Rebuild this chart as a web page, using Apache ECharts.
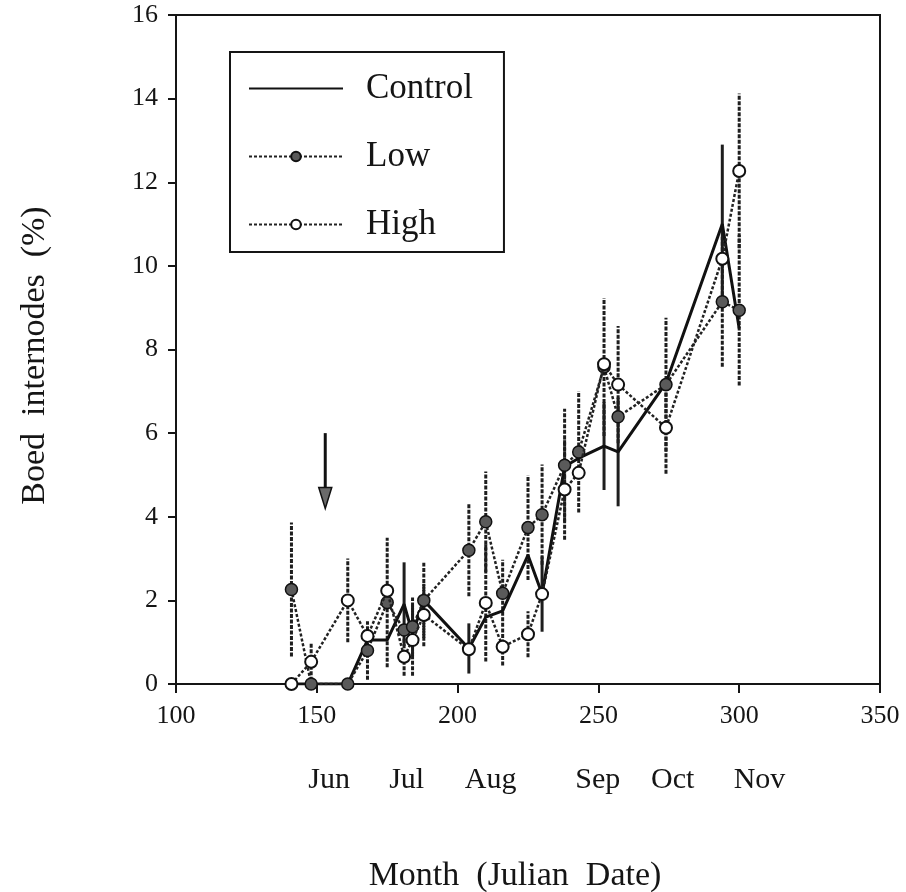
<!DOCTYPE html>
<html><head><meta charset="utf-8">
<script src="https://cdn.jsdelivr.net/npm/echarts@6/dist/echarts.min.js"></script>
<style>html,body{margin:0;padding:0;background:#fff}#c{width:906px;height:892px}</style>
</head><body><div id="c"></div>
<script>
// ---- data (Julian date) ----
const dates   = [141, 148, 161, 168, 175, 181, 184, 188, 204, 210, 216, 225, 230, 238, 243, 252, 257, 274, 294, 300];
const control = [0, 0, 0, 1.05, 1.05, 1.91, 1.2, 2.0, 0.85, 1.6, 1.75, 3.08, 2.15, 5.2, 5.4, 5.69, 5.55, 7.2, 11.0, 8.5];
const low     = [2.26, 0, 0, 0.8, 1.95, 1.29, 1.37, 2.0, 3.2, 3.88, 2.17, 3.74, 4.05, 5.23, 5.55, 7.58, 6.39, 7.16, 9.14, 8.94];
const high    = [0, 0.53, 2.0, 1.15, 2.23, 0.65, 1.05, 1.65, 0.83, 1.94, 0.89, 1.19, 2.15, 4.65, 5.05, 7.65, 7.16, 6.13, 10.17, 12.27];
// standard errors (null = no bar drawn)
const controlErr = [null, null, null, null, null, 1.0, null, null, 0.6, null, null, null, 0.9, null, null, 1.05, 1.3, null, 1.9, null];
const lowErr     = [1.6, null, null, 0.7, 1.55, null, 0.7, 0.9, 1.1, 1.2, 0.8, 1.25, 1.2, 1.35, 1.45, 1.65, null, 1.6, 1.55, 1.8];
const highErr    = [null, 0.45, 1.0, null, null, 0.45, 0.85, 0.75, null, 1.4, 0.45, 0.55, null, 1.2, null, null, 1.4, 1.1, null, 1.85];
// tick labels / month labels
const xTicks = [100, 150, 200, 250, 300, 350];
const yTicks = [0, 2, 4, 6, 8, 10, 12, 14, 16];
const monthNames = ['Jun', 'Jul', 'Aug', 'Sep', 'Oct', 'Nov'];
const monthPos   = [154.4, 181.9, 211.7, 249.8, 276.4, 307.2];
// treatment start arrow (Julian date, top y, tip y)
const arrow = [153, 6.0, 4.2];

const FONT = "'Liberation Serif', 'Times New Roman', serif";
const INK = '#151515';

function pts(vals) { return dates.map((d, i) => [d, vals[i]]); }
function bars(vals, errs) {
  const out = [];
  dates.forEach((d, i) => { if (errs[i] != null) out.push([d, vals[i] - errs[i], vals[i] + errs[i]]); });
  return out;
}
function barSeries(vals, errs, dash) {
  return {
    type: 'custom', silent: true, z: 1,
    data: bars(vals, errs),
    encode: { x: 0, y: [1, 2] },
    renderItem: (p, api) => {
      const x = api.value(0);
      const a = api.coord([x, api.value(1)]);
      const b = api.coord([x, api.value(2)]);
      return { type: 'line', shape: { x1: a[0], y1: a[1], x2: b[0], y2: b[1] },
        style: { stroke: '#1e1e1e', lineWidth: 3, lineDash: dash } };
    }
  };
}

const chart = echarts.init(document.getElementById('c'), null, { renderer: 'canvas' });
chart.setOption({
  animation: false,
  backgroundColor: '#fff',
  grid: { left: 176, right: 26, top: 15, bottom: 208, show: true, borderColor: INK, borderWidth: 2,
    containLabel: false, outerBoundsMode: 'none' },
  legend: {
    orient: 'vertical', left: 230, top: 52,
    data: [
      { name: 'Control', itemStyle: { color: 'rgba(0,0,0,0)', borderColor: 'rgba(0,0,0,0)', borderWidth: 0 } },
      { name: 'Low' },
      { name: 'High' }
    ],
    itemWidth: 94, itemHeight: 12, itemGap: 33,
    padding: [19, 31, 10, 18],
    borderColor: INK, borderWidth: 2,
    selectedMode: false,
    textStyle: { fontFamily: FONT, fontSize: 35, color: INK, lineHeight: 34, padding: [0, 0, 0, 18] }
  },
  xAxis: [{
    type: 'value', min: xTicks[0], max: xTicks[xTicks.length - 1], interval: 50,
    axisLine: { show: true, lineStyle: { color: INK, width: 2 } },
    axisTick: { show: true, length: 9, inside: false, lineStyle: { color: INK, width: 2 } },
    splitLine: { show: false },
    axisLabel: { fontFamily: FONT, fontSize: 26, color: INK, margin: 19 },
    name: 'Month  (Julian  Date)', nameLocation: 'middle', nameGap: 175,
    nameTextStyle: { fontFamily: FONT, fontSize: 34, color: INK, padding: [0, 26, 0, 0] }
  }, {
    type: 'value', min: xTicks[0], max: xTicks[xTicks.length - 1], position: 'bottom', offset: 73,
    axisLine: { show: false }, axisTick: { show: false }, splitLine: { show: false },
    axisLabel: {
      customValues: monthPos, fontFamily: FONT, fontSize: 30, color: INK, margin: 8,
      formatter: v => { const i = monthPos.findIndex(m => Math.abs(m - v) < 1e-6); return i >= 0 ? monthNames[i] : ''; }
    }
  }],
  yAxis: {
    type: 'value', min: yTicks[0], max: yTicks[yTicks.length - 1], interval: 2,
    axisLine: { show: true, lineStyle: { color: INK, width: 2 } },
    axisTick: { show: true, length: 8, lineStyle: { color: INK, width: 2 } },
    splitLine: { show: false },
    axisLabel: { fontFamily: FONT, fontSize: 26, color: INK, margin: 18 },
    name: 'Boed  internodes  (%)', nameLocation: 'middle', nameGap: 124, nameRotate: 90,
    nameTextStyle: { fontFamily: FONT, fontSize: 34, color: INK, padding: [0, 12, 0, 0] }
  },
  series: [
    barSeries(control, controlErr, null),
    barSeries(low, lowErr, [4, 1.5]),
    barSeries(high, highErr, [4, 1.5]),
    {
      name: 'Control', type: 'line', data: pts(control), symbol: 'none', z: 3,
      lineStyle: { color: '#111', width: 3, type: 'solid' }, itemStyle: { color: '#111' }
    },
    {
      name: 'Low', type: 'line', data: pts(low), symbol: 'circle', symbolSize: 12, z: 4,
      lineStyle: { color: '#222', width: 2.5, type: [3, 2] },
      itemStyle: { color: '#5a5a5a', borderColor: '#111', borderWidth: 1.5 }
    },
    {
      name: 'High', type: 'line', data: pts(high), symbol: 'circle', symbolSize: 12, z: 5,
      lineStyle: { color: '#222', width: 2.5, type: [3, 2] },
      itemStyle: { color: '#fff', borderColor: '#111', borderWidth: 2 }
    },
    {
      type: 'custom', silent: true, z: 6,
      data: [arrow],
      encode: { x: 0, y: [1, 2] },
      renderItem: (p, api) => {
        const top = api.coord([api.value(0), api.value(1)]);
        const tip = api.coord([api.value(0), api.value(2)]);
        const hh = 21, hw = 13;
        return { type: 'group', children: [
          { type: 'line', shape: { x1: top[0], y1: top[1], x2: tip[0], y2: tip[1] - hh + 2 }, style: { stroke: '#111', lineWidth: 3 } },
          { type: 'polygon', shape: { points: [[tip[0] - hw / 2, tip[1] - hh], [tip[0] + hw / 2, tip[1] - hh], [tip[0], tip[1]]] },
            style: { fill: '#6a6a6a', stroke: '#111', lineWidth: 1.5 } }
        ] };
      }
    }
  ]
});
</script>
</body></html>
